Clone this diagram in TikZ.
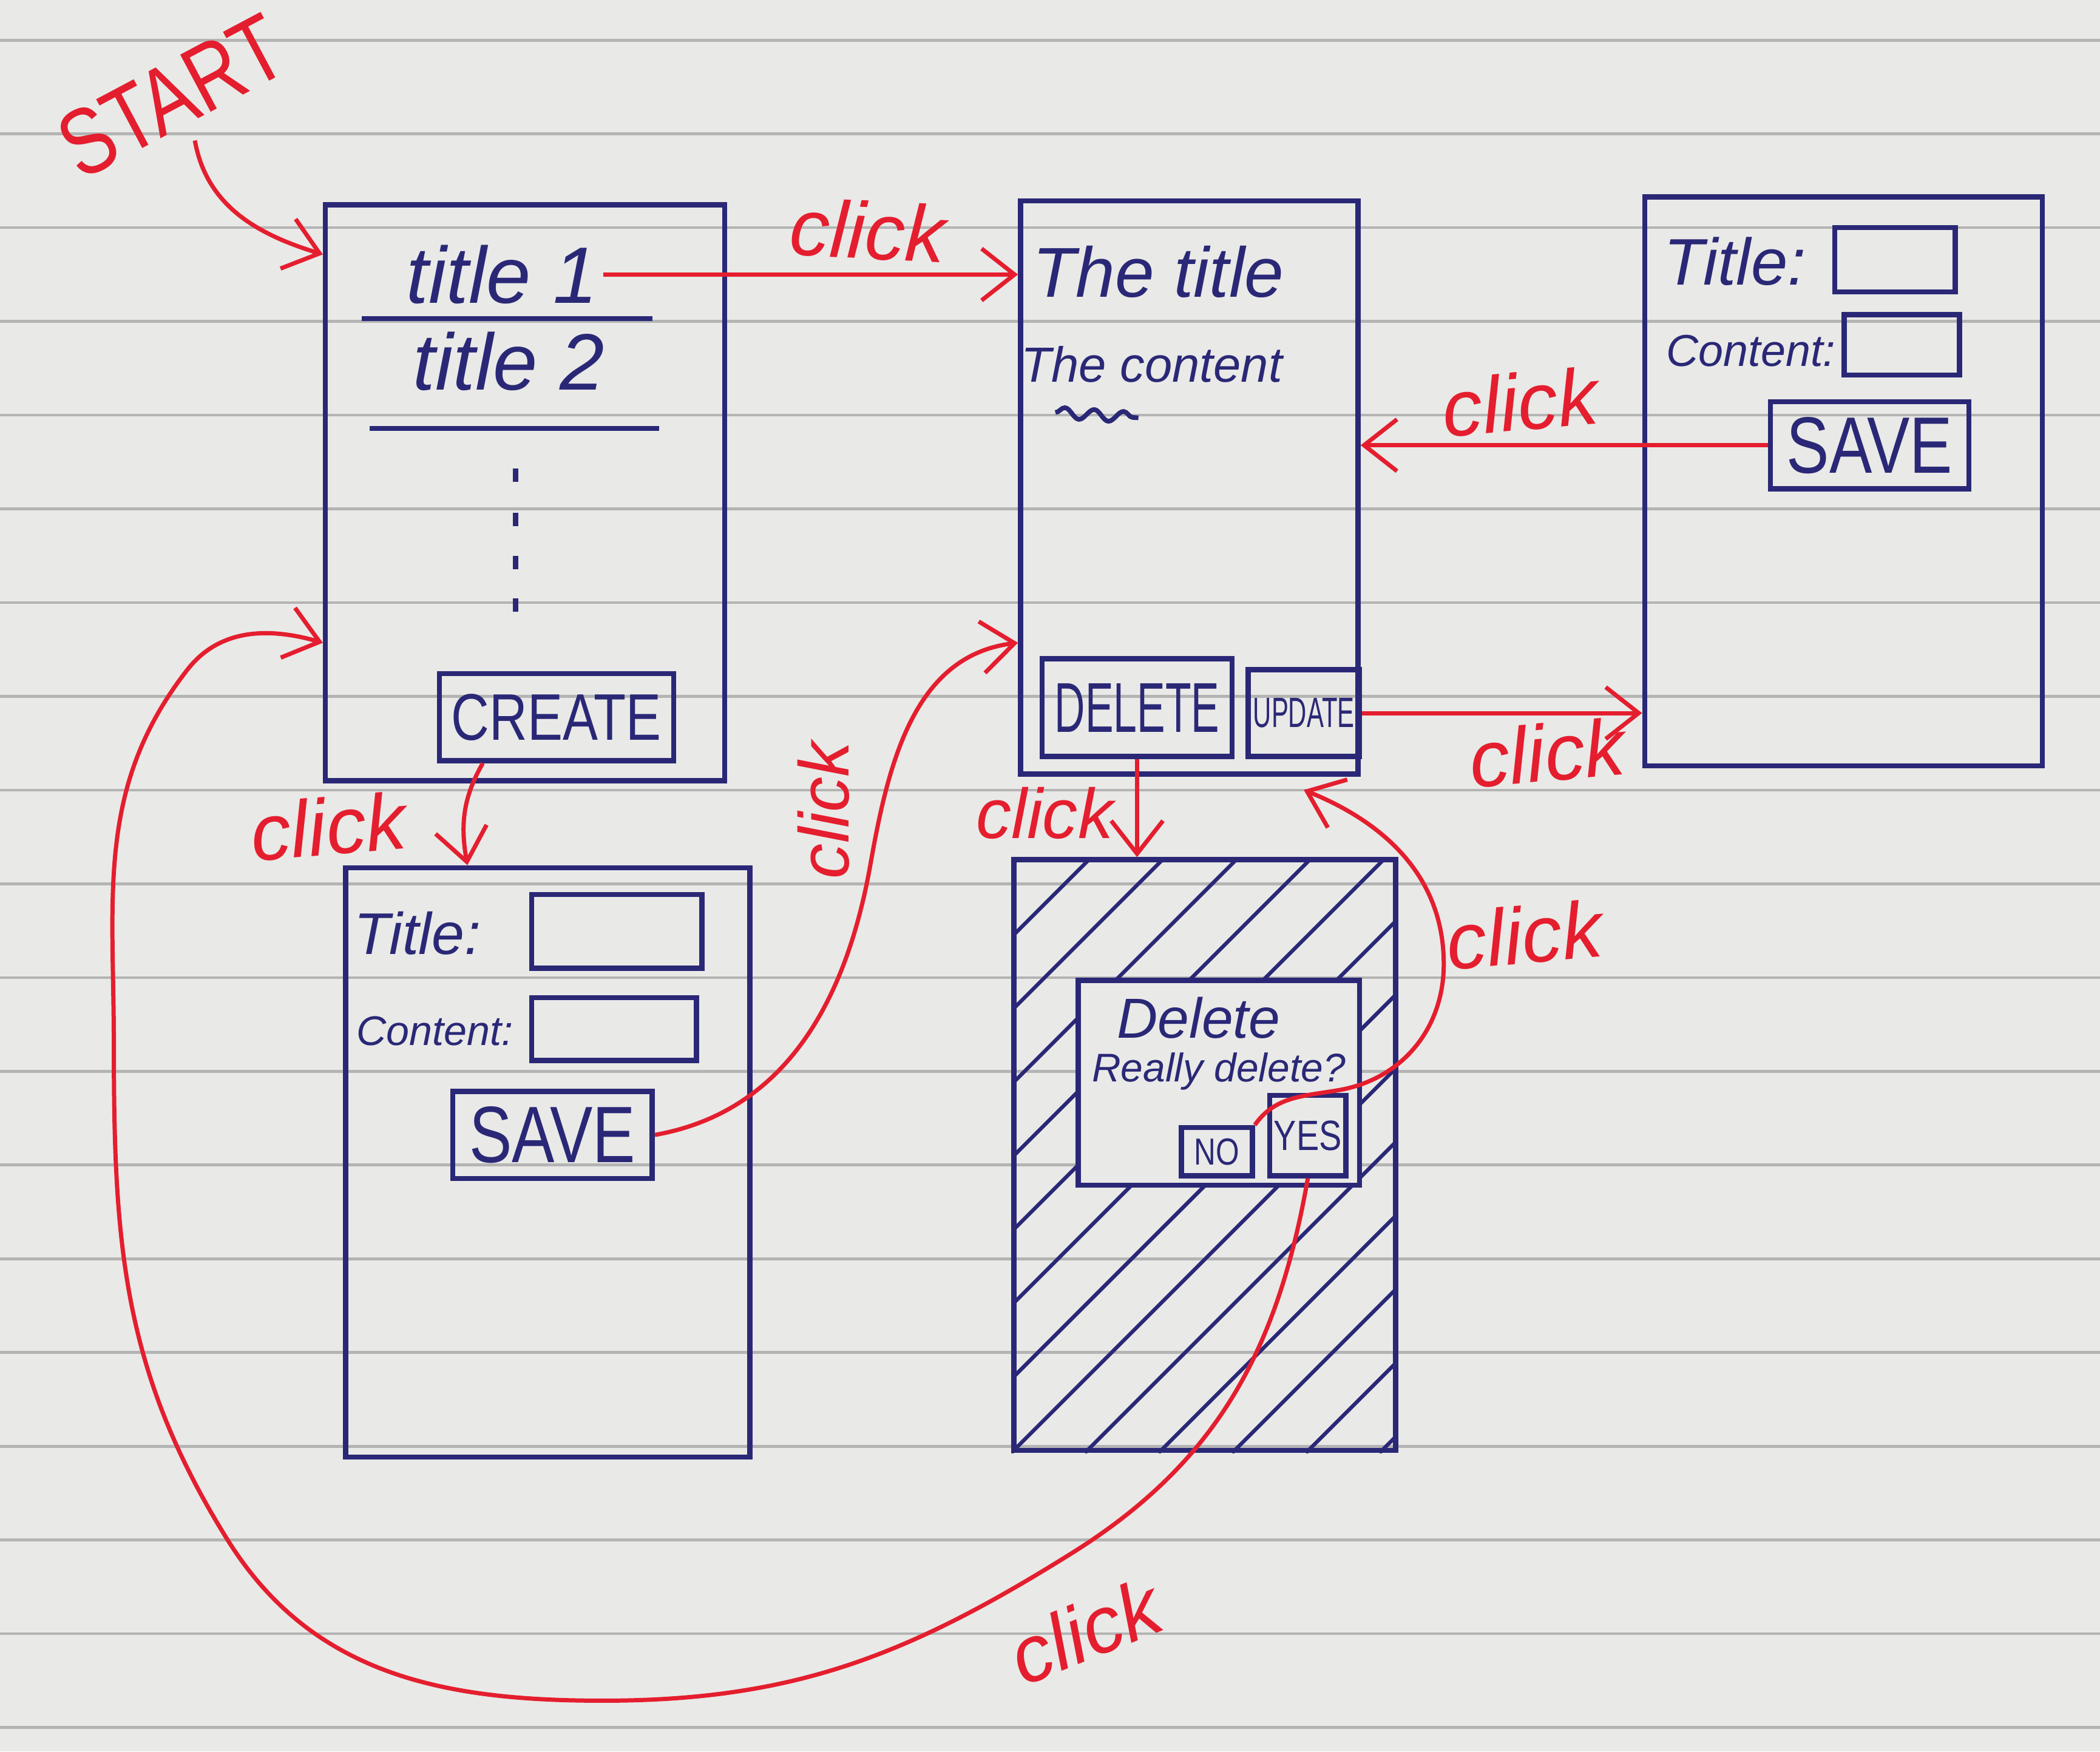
\documentclass[tikz,border=0pt]{standalone}
\usepackage{fontspec}
\setmainfont{Liberation Sans}
\newfontfamily\handfont[FakeStretch=0.8]{Liberation Sans}
\newfontfamily\squeezed[FakeStretch=0.6]{Liberation Sans}
\usepackage{xcolor}
\usepackage{tikz}
\usetikzlibrary{
  arrows.meta,
  positioning,
  calc,
  decorations.pathmorphing,
}
\definecolor{ink}{RGB}{42,40,118}
\definecolor{redink}{RGB}{228,30,46}
\definecolor{paper}{RGB}{233,233,231}
\definecolor{ruling}{RGB}{180,180,180}
\newcommand{\fsz}[1]{\fontsize{#1}{#1}\selectfont}

\begin{document}
\begin{tikzpicture}[
  screen/.style={draw=ink, line width=1.1pt, inner sep=0pt},
  button/.style={draw=ink, line width=1.1pt, inner sep=0pt, text=ink},
  field/.style={draw=ink, line width=1.1pt, inner sep=0pt},
  hand/.style={text=ink, inner sep=1pt},
  hatch/.style={draw=ink, line width=0.8pt},
  click/.style={draw=redink, line width=0.9pt, -{Straight Barb[length=7pt, width=11pt]}},
  clicklabel/.style={text=redink, font=\fsz{17}\itshape},
]

%% notebook paper
\fill[paper] (0,0) rectangle (15.68,-13.08);
\useasboundingbox (0,0) rectangle (15.68,-13.08);
\foreach \y in {0.30,1.00,...,12.95}
  \draw[ruling, line width=0.6pt] (0,-\y) -- (15.68,-\y);

%% list screen
\node[screen, minimum width=2.98cm, minimum height=4.30cm] (list) at (3.92,-3.68) {};
\node[hand, font=\fsz{17}\itshape] (title1) at (3.75,-2.05) {title 1};
\node[hand, font=\fsz{17}\itshape] (title2) at (3.80,-2.70) {title 2};
\draw[ink, line width=1.1pt] (2.70,-2.38) -- (4.87,-2.38);
\draw[ink, line width=1.1pt] (2.76,-3.20) -- (4.92,-3.20);
\foreach \y in {3.50,3.83,4.15,4.47}
  \draw[ink, line width=1.1pt] (3.85,-\y) -- ++(0,-0.10);
\node[button, minimum width=1.75cm, minimum height=0.65cm, font=\handfont\fsz{14}]
  (createbtn) at (4.155,-5.355) {CREATE};

%% detail screen
\node[screen, minimum width=2.52cm, minimum height=4.28cm] (detail) at (8.88,-3.64) {};
\node[hand, font=\fsz{15}\itshape] (thetitle) at (8.65,-2.03) {The title};
\node[hand, font=\fsz{10.5}\itshape] (thecontent) at (8.60,-2.72) {The content};
\draw[ink, line width=1pt, decorate, decoration={snake, amplitude=0.4mm, segment length=2.2mm}]
  (7.88,-3.08) -- (8.50,-3.12);
\node[button, minimum width=1.42cm, minimum height=0.73cm, font=\squeezed\fsz{15}]
  (deletebtn) at (8.49,-5.285) {DELETE};
\node[button, minimum width=0.83cm, minimum height=0.65cm, font=\squeezed\fsz{9}]
  (update) at (9.735,-5.325) {UPDATE};

%% edit screen
\node[screen, minimum width=2.97cm, minimum height=4.25cm] (edit) at (13.765,-3.595) {};
\node[hand, anchor=west, font=\fsz{14}\itshape] (edittitle) at (12.38,-1.95) {Title:};
\node[field, minimum width=0.90cm, minimum height=0.48cm] (edittitlebox) at (14.15,-1.94) {};
\node[hand, anchor=west, font=\fsz{9.5}\itshape] (editcontent) at (12.40,-2.62) {Content:};
\node[field, minimum width=0.86cm, minimum height=0.45cm] (editcontentbox) at (14.20,-2.575) {};
\node[button, minimum width=1.48cm, minimum height=0.65cm, font=\handfont\fsz{17}]
  (editsave) at (13.96,-3.325) {SAVE};

%% create screen
\node[screen, minimum width=3.02cm, minimum height=4.40cm] (createscr) at (4.09,-8.68) {};
\node[hand, anchor=west, font=\fsz{12.5}\itshape] (createtitle) at (2.60,-6.97) {Title:};
\node[field, minimum width=1.27cm, minimum height=0.55cm] (createtitlebox) at (4.605,-6.955) {};
\node[hand, anchor=west, font=\fsz{8.8}\itshape] (createcontent) at (2.62,-7.70) {Content:};
\node[field, minimum width=1.23cm, minimum height=0.47cm] (createcontentbox) at (4.585,-7.685) {};
\node[button, minimum width=1.49cm, minimum height=0.65cm, font=\handfont\fsz{17}]
  (createsave) at (4.125,-8.475) {SAVE};

%% delete confirmation screen
\node[screen, minimum width=2.85cm, minimum height=4.41cm] (confirm) at (8.995,-8.625) {};
\begin{scope}
  \clip (confirm.south west) rectangle (confirm.north east);
  \foreach \k in {-4.40,-3.85,...,2.95}
    \draw[hatch] ($(confirm.south west)+(\k,0)$) -- ++(4.6,4.6);
\end{scope}
\node[screen, fill=paper, minimum width=2.10cm, minimum height=1.53cm] (dialog) at (9.10,-8.085) {};
\node[hand, font=\fsz{12}\itshape] (dlgtitle) at (8.95,-7.60) {Delete};
\node[hand, font=\fsz{8.5}\itshape] (dlgtext) at (9.10,-8.00) {Really delete?};
\node[button, minimum width=0.53cm, minimum height=0.36cm, font=\handfont\fsz{8}]
  (no) at (9.085,-8.60) {NO};
\node[button, minimum width=0.57cm, minimum height=0.60cm, font=\handfont\fsz{9}]
  (yes) at (9.765,-8.48) {YES};

%% clicks
\node[text=redink, font=\handfont\fsz{20}, rotate=28] (start) at (1.28,-0.72) {START};
\draw[click] (start.south) to[out=-80, in=163] ([yshift=1.78cm]list.west);

\draw[click] (title1.east) -- (title1.east -| detail.west);
\node[clicklabel, rotate=-3] (clicka) at (6.48,-1.72) {click};

\draw[click] (editsave.west) -- (editsave.west -| detail.east);
\node[clicklabel, rotate=5] (clickb) at (11.35,-3.00) {click};

\draw[click] (update.east) -- (update.east -| edit.west);
\node[clicklabel, rotate=5] (clickc) at (11.55,-5.62) {click};

\draw[click] ([xshift=-0.55cm]createbtn.south) to[out=-120, in=100] ([xshift=-0.60cm]createscr.north);
\node[clicklabel, rotate=5] (clickd) at (2.45,-6.17) {click};

\draw[click] (deletebtn.south) -- (deletebtn.south |- confirm.north);
\node[clicklabel, font=\fsz{15}\itshape] (clicke) at (7.80,-6.07) {click};

\draw[click] (createsave.east) to[out=10, in=-100] (6.50,-6.45)
  to[out=80, in=187] ([yshift=-1.16cm]detail.west);
\node[clicklabel, font=\fsz{15}\itshape, rotate=90] (clickf) at (6.15,-6.05) {click};

\coordinate (backin) at ($(update.south |- detail.south)+(0,-0.10)$);
\draw[click] (no.north east) to[out=55, in=190] (10.00,-8.14)
  to[out=10, in=-90] (10.78,-7.20) to[out=90, in=-22] (backin);
\node[clicklabel, rotate=5] (clickg) at (11.38,-6.98) {click};

\draw[click] (yes.south) to[out=-100, in=32] (8.00,-11.60)
  to[out=212, in=0] (4.50,-12.70) to[out=180, in=-58] (1.70,-11.50)
  to[out=122, in=-90] (0.85,-7.80) to[out=90, in=-128] (1.40,-5.00)
  to[out=52, in=164] ([yshift=-1.12cm]list.west);
\node[clicklabel, rotate=22] (clickh) at (8.10,-12.18) {click};

\end{tikzpicture}
\end{document}
